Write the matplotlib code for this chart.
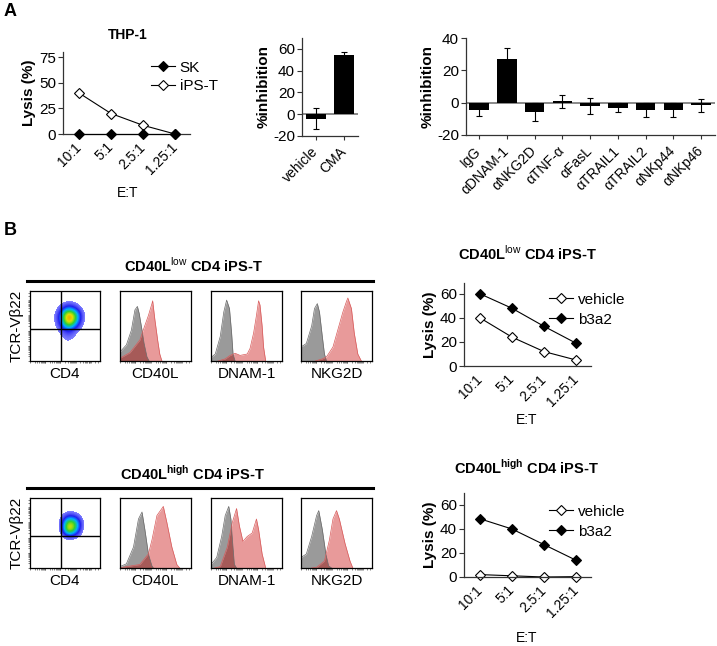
import matplotlib
matplotlib.use('Agg')
import matplotlib.pyplot as plt
import numpy as np
from matplotlib.colors import LinearSegmentedColormap
from matplotlib.lines import Line2D

plt.rcParams['font.family'] = ['Liberation Sans', 'DejaVu Sans']
plt.rcParams['mathtext.fontset'] = 'custom'
plt.rcParams['mathtext.rm'] = 'Liberation Sans'
plt.rcParams['mathtext.bf'] = 'Liberation Sans:bold'
plt.rcParams['axes.unicode_minus'] = False

# ---- data: panel A ----
et_ratios = ['10:1', '5:1', '2.5:1', '1.25:1']
thp1_sk = [0, 0, 0, 0]
thp1_ips = [40, 20, 8.5, 0]

cma_groups = ['vehicle', 'CMA']
cma_inhib = [-4, 54.5]
cma_err = [9.5, 3]

ab_groups = ['IgG', 'αDNAM-1', 'αNKG2D', 'αTNF-α', 'αFasL', 'αTRAIL1', 'αTRAIL2', 'αNKp44', 'αNKp46']
ab_inhib = [-4.5, 27, -6, 1, -2, -3, -4.5, -4.5, -1.5]
ab_err = [3.5, 7, 5.5, 4, 5, 3, 4.5, 4.5, 4]

# ---- data: panel B lysis ----
low_vehicle = [40, 24, 12, 5]
low_b3a2 = [60, 48, 33, 19]
high_vehicle = [2, 1, 0, 0.3]
high_b3a2 = [48.5, 40, 27, 14]

# ---- data: panel B flow (axes fraction positions, relative heights) ----
flow_markers = ['CD40L', 'DNAM-1', 'NKG2D']
low_hists = {
    'CD40L': ([0, 0.09, 0.16, 0.21, 0.245, 0.27, 0.31, 0.34, 0.38, 0.41],
              [0.13, 0.23, 0.44, 0.73, 0.78, 0.68, 0.44, 0.25, 0.06, 0],
              [0, 0.14, 0.28, 0.33, 0.40, 0.45, 0.46, 0.49, 0.53, 0.56, 0.59],
              [0.04, 0.12, 0.30, 0.45, 0.65, 0.82, 0.86, 0.60, 0.30, 0.10, 0]),
    'DNAM-1': ([0, 0.06, 0.13, 0.18, 0.22, 0.26, 0.29, 0.31, 0.34],
               [0.05, 0.10, 0.35, 0.70, 0.87, 0.75, 0.40, 0.10, 0],
               [0.10, 0.20, 0.27, 0.34, 0.41, 0.51, 0.55, 0.60, 0.64, 0.67, 0.69, 0.72, 0.74, 0.77],
               [0, 0.03, 0.08, 0.11, 0.08, 0.10, 0.18, 0.40, 0.65, 0.86, 0.80, 0.50, 0.20, 0]),
    'NKG2D': ([0, 0.075, 0.15, 0.19, 0.23, 0.26, 0.30, 0.33, 0.36],
              [0.20, 0.25, 0.50, 0.75, 0.82, 0.70, 0.35, 0.10, 0],
              [0.20, 0.30, 0.36, 0.45, 0.52, 0.59, 0.64, 0.66, 0.71, 0.75, 0.80, 0.85],
              [0, 0.03, 0.06, 0.20, 0.45, 0.70, 0.85, 0.90, 0.75, 0.40, 0.10, 0]),
}
high_hists = {
    'CD40L': ([0, 0.09, 0.19, 0.26, 0.31, 0.35, 0.40, 0.45, 0.47],
              [0.02, 0.06, 0.30, 0.70, 0.80, 0.55, 0.20, 0.03, 0],
              [0, 0.09, 0.28, 0.40, 0.45, 0.52, 0.59, 0.61, 0.66, 0.73, 0.80, 0.84],
              [0, 0.02, 0.05, 0.20, 0.40, 0.75, 0.85, 0.88, 0.65, 0.30, 0.05, 0]),
    'DNAM-1': ([0, 0.08, 0.15, 0.20, 0.25, 0.28, 0.31, 0.33, 0.36],
               [0.05, 0.15, 0.45, 0.75, 0.88, 0.70, 0.30, 0.05, 0],
               [0.05, 0.13, 0.23, 0.30, 0.36, 0.40, 0.45, 0.51, 0.58, 0.64, 0.67, 0.72, 0.77],
               [0, 0.02, 0.30, 0.65, 0.85, 0.60, 0.38, 0.45, 0.50, 0.70, 0.55, 0.20, 0]),
    'NKG2D': ([0, 0.075, 0.15, 0.22, 0.25, 0.30, 0.35, 0.39, 0.43],
              [0.15, 0.20, 0.45, 0.75, 0.82, 0.55, 0.20, 0.03, 0],
              [0.15, 0.22, 0.33, 0.40, 0.45, 0.50, 0.54, 0.62, 0.69, 0.73],
              [0, 0.01, 0.10, 0.40, 0.70, 0.82, 0.70, 0.35, 0.10, 0]),
}

# CD4 vs TCR-Vb22 density (rows top -> bottom, 10x10 cells over the plot)
low_density = [
    [0, 0, 0, 0, 0, 0, 0, 0, 0, 0],
    [0, 0, 0, 0, 0.02, 0.05, 0.03, 0, 0, 0],
    [0, 0, 0, 0.02, 0.15, 0.35, 0.22, 0.05, 0, 0],
    [0, 0, 0, 0.04, 0.35, 0.95, 0.60, 0.10, 0.01, 0],
    [0, 0, 0, 0.03, 0.30, 0.80, 0.45, 0.07, 0.01, 0],
    [0, 0, 0, 0.02, 0.12, 0.28, 0.12, 0.03, 0, 0],
    [0, 0, 0, 0.01, 0.06, 0.12, 0.05, 0.01, 0, 0],
    [0, 0, 0, 0, 0.03, 0.06, 0.02, 0, 0, 0],
    [0, 0, 0, 0, 0.01, 0.01, 0, 0, 0, 0],
    [0, 0, 0, 0, 0, 0, 0, 0, 0, 0],
]
high_density = [
    [0, 0, 0, 0, 0, 0, 0, 0, 0, 0],
    [0, 0, 0, 0, 0, 0.01, 0.01, 0, 0, 0],
    [0, 0, 0, 0, 0.04, 0.18, 0.13, 0.02, 0, 0],
    [0, 0, 0, 0, 0.10, 0.70, 0.55, 0.07, 0, 0],
    [0, 0, 0, 0, 0.08, 0.85, 0.50, 0.05, 0, 0],
    [0, 0, 0, 0, 0.02, 0.14, 0.09, 0.01, 0, 0],
    [0, 0, 0, 0, 0, 0.02, 0.01, 0, 0, 0],
    [0, 0, 0, 0, 0, 0, 0, 0, 0, 0],
    [0, 0, 0, 0, 0, 0, 0, 0, 0, 0],
    [0, 0, 0, 0, 0, 0, 0, 0, 0, 0],
]
gate_cd4 = 0.44
gate_tcr = 0.46

W, H = 717, 646
fig = plt.figure(figsize=(W / 100, H / 100), dpi=100)

TICK_FS = 11
LABEL_FS = 11


def px_axes(left, top, right, bottom):
    return fig.add_axes([left / W, 1 - bottom / H, (right - left) / W, (bottom - top) / H])


def px_text(x, y, s, **kw):
    fig.text(x / W, 1 - y / H, s, **kw)


def clean(ax):
    for s in ['top', 'right']:
        ax.spines[s].set_visible(False)
    for s in ['left', 'bottom']:
        ax.spines[s].set_linewidth(0.9)
        ax.spines[s].set_color('#333333')
    ax.tick_params(axis='y', length=3.5, width=0.8, labelsize=TICK_FS, pad=1.5, color='#333333')


def lysis_plot(ax, series, ylim, yticks):
    for vals, filled in series:
        ax.plot(range(len(vals)), vals, color='black', lw=0.8, marker='D', ms=5.5,
                mfc='black' if filled else 'white', mec='black', mew=0.8, clip_on=False,
                zorder=3 if filled else 2)
    ax.set_xlim(-0.5, 3.47)
    ax.set_ylim(*ylim)
    ax.set_yticks(yticks)
    ax.set_xticks(range(len(et_ratios)))
    ax.set_xticklabels(et_ratios, rotation=45, ha='right', va='center', rotation_mode='anchor', fontsize=10)
    ax.tick_params(axis='x', length=0, pad=8)
    clean(ax)
    ax.set_ylabel('Lysis (%)', fontsize=LABEL_FS, fontweight='bold', labelpad=2)
    handles = [Line2D([], [], color='black', lw=0.8, marker='D', ms=5.5,
                      mfc='black' if filled else 'white', mec='black', mew=0.8) for _, filled in series]
    return handles


def bar_plot(ax, labels, vals, errs, xlim, ylim, yticks):
    ax.bar(range(len(vals)), vals, width=0.7, color='black', zorder=2)
    ax.errorbar(range(len(vals)), vals, yerr=errs, fmt='none', ecolor='black', elinewidth=0.8,
                capsize=2.5, capthick=0.8, zorder=3)
    ax.axhline(0, color='#808080', lw=1.3, zorder=1)
    ax.set_xlim(*xlim)
    ax.set_ylim(*ylim)
    ax.set_yticks(yticks)
    ax.set_xticks(range(len(labels)))
    ax.set_xticklabels(labels, rotation=45, ha='right', va='center', rotation_mode='anchor', fontsize=10)
    ax.tick_params(axis='x', length=3, width=0.8, pad=7, color='#333333')
    clean(ax)
    ax.set_ylabel('%inhibition', fontsize=LABEL_FS, fontweight='bold', labelpad=2)


# ---- Panel A ----
px_text(4, 3, 'A', fontsize=13, fontweight='bold', va='top')

ax1 = px_axes(63, 52, 190, 134)
h = lysis_plot(ax1, [(thp1_ips, False), (thp1_sk, True)], (0, 80), [0, 25, 50, 75])
ax1.legend([h[1], h[0]], ['SK', 'iPS-T'], frameon=False, fontsize=LABEL_FS, loc='upper left',
           bbox_to_anchor=(143 / W, 1 - 53 / H), bbox_transform=fig.transFigure,
           handlelength=1.6, handletextpad=0.3, labelspacing=0.3, borderpad=0)
px_text(128, 35, 'THP-1', fontsize=10, fontweight='bold', ha='center', va='center')
px_text(128, 193, 'E:T', fontsize=10, ha='center', va='center')

ax2 = px_axes(302, 38, 358, 136)
bar_plot(ax2, cma_groups, cma_inhib, cma_err, (-0.5, 1.5), (-20, 70), [-20, 0, 20, 40, 60])

ax3 = px_axes(466, 38, 715, 135)
bar_plot(ax3, ab_groups, ab_inhib, ab_err, (-0.47, 8.5), (-20, 40), [-20, 0, 20, 40])

# ---- Panel B ----
px_text(4, 222, 'B', fontsize=13, fontweight='bold', va='top')

dens_cmap = LinearSegmentedColormap.from_list(
    'flow', ['#8080ff', '#2020f0', '#00b0ff', '#30d030', '#e0e000', '#ff8000', '#ff3000'])
dens_cmap.set_under('white')

hist_boxes = [(120, 191), (211, 282), (301, 372)]
log_ticks = [np.log10(k * 10 ** d) / 4.6 for d in range(5) for k in range(1, 10) if k * 10 ** d < 10 ** 4.6]


def flow_row(top, bottom, title_y, line_y, density, hists, title):
    px_text(193, title_y, title, fontsize=10.5, fontweight='bold', ha='center', va='center')
    fig.add_artist(Line2D([27 / W, 373 / W], [1 - line_y / H, 1 - line_y / H], color='black', lw=2.2))
    label_y = bottom + 13

    axd = px_axes(30, top, 100, bottom)
    axd.imshow(density, extent=(0, 1, 0, 1), origin='upper', cmap=dens_cmap, vmin=0.07, vmax=0.95,
               interpolation='bicubic', aspect='auto')
    axd.axvline(gate_cd4, color='black', lw=1)
    axd.axhline(gate_tcr, color='black', lw=1)
    axd.set_xlim(0, 1)
    axd.set_ylim(0, 1)
    axd.set_xticks(log_ticks)
    axd.set_yticks(log_ticks)
    axd.set_xticklabels([])
    axd.set_yticklabels([])
    axd.tick_params(length=1.5, width=0.5, color='#555555')
    for s in axd.spines.values():
        s.set_linewidth(0.9)
    px_text(65, label_y, 'CD4', fontsize=LABEL_FS, ha='center', va='center')
    px_text(17, (top + bottom) / 2, 'TCR-Vβ22', fontsize=LABEL_FS, ha='center', va='center', rotation=90)

    for (l, r), marker in zip(hist_boxes, flow_markers):
        gx, gy, rx, ry = hists[marker]
        axh = px_axes(l, top, r, bottom)
        gray = axh.fill_between(gx, gy, color='#9a9a9a', lw=0)
        axh.plot(gx, gy, color='#6a6a6a', lw=0.5)
        axh.fill_between(rx, ry, color='#e89a9a', lw=0)
        overlap = axh.fill_between(rx, ry, color='#a65a58', lw=0)
        overlap.set_clip_path(gray.get_paths()[0], axh.transData)
        axh.plot(rx, ry, color='#d85a5a', lw=0.5)
        axh.set_xlim(0, 1)
        axh.set_ylim(0, 1)
        axh.set_xticks(log_ticks)
        axh.set_xticklabels([])
        axh.set_yticks([])
        axh.tick_params(length=1.5, width=0.5, color='#555555')
        for s in axh.spines.values():
            s.set_linewidth(0.9)
        px_text((l + r) / 2, label_y, marker, fontsize=LABEL_FS, ha='center', va='center')


flow_row(291, 361, 265, 281, low_density, low_hists, r'CD40L$^{\mathrm{low}}$ CD4 iPS-T')
flow_row(498, 568, 473, 488, high_density, high_hists, r'CD40L$^{\mathbf{high}}$ CD4 iPS-T')

ax4 = px_axes(464, 283, 591, 366)
h = lysis_plot(ax4, [(low_vehicle, False), (low_b3a2, True)], (0, 69), [0, 20, 40, 60])
ax4.legend(h, ['vehicle', 'b3a2'], frameon=False, fontsize=LABEL_FS, loc='upper left',
           bbox_to_anchor=(541 / W, 1 - 285 / H), bbox_transform=fig.transFigure,
           handlelength=1.6, handletextpad=0.3, labelspacing=0.4, borderpad=0)
px_text(527, 253, r'CD40L$^{\mathrm{low}}$ CD4 iPS-T', fontsize=10.5, fontweight='bold', ha='center', va='center')
px_text(527, 420, 'E:T', fontsize=10, ha='center', va='center')

ax5 = px_axes(464, 493, 591, 577)
h = lysis_plot(ax5, [(high_vehicle, False), (high_b3a2, True)], (0, 70), [0, 20, 40, 60])
ax5.legend(h, ['vehicle', 'b3a2'], frameon=False, fontsize=LABEL_FS, loc='upper left',
           bbox_to_anchor=(541 / W, 1 - 497 / H), bbox_transform=fig.transFigure,
           handlelength=1.6, handletextpad=0.3, labelspacing=0.4, borderpad=0)
px_text(527, 467, r'CD40L$^{\mathbf{high}}$ CD4 iPS-T', fontsize=10.5, fontweight='bold', ha='center', va='center')
px_text(527, 638, 'E:T', fontsize=10, ha='center', va='center')

fig.savefig('out.png', dpi=100)
